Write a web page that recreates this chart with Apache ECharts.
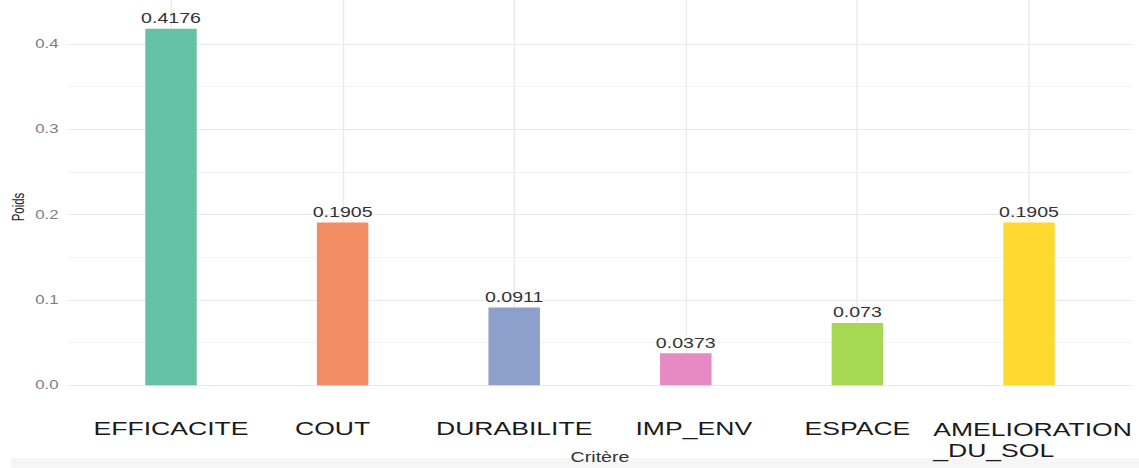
<!DOCTYPE html>
<html>
<head>
<meta charset="utf-8">
<title>Poids des critères</title>
<script src="https://cdn.jsdelivr.net/npm/echarts@6/dist/echarts.min.js"></script>
<style>
  html, body { margin: 0; padding: 0; background: #ffffff; overflow: hidden; }
  #chart {
    width: 814px;
    height: 468px;
    transform: scaleX(1.3993);
    transform-origin: 0 0;
  }
</style>
</head>
<body>
<div id="chart"></div>
<script>
// Criteria and their weights
const categories = ['EFFICACITE', 'COUT', 'DURABILITE', 'IMP_ENV', 'ESPACE', 'AMELIORATION_DU_SOL'];
const weights = [0.4176, 0.1905, 0.0911, 0.0373, 0.073, 0.1905];
const yTicks = [0.0, 0.1, 0.2, 0.3, 0.4];
const palette = ['#66C2A5', '#F38D63', '#8DA0CB', '#E78AC3', '#A6D854', '#FFD92F'];

const FONT = 'Liberation Sans, Arial, Helvetica, sans-serif';
const SX = 1.3993;              // horizontal stretch applied to the chart box
const W = 814;                  // unstretched chart width
const px = x => x / SX;         // page x -> chart x

// small horizontal nudges of some category labels (page pixels)
const labelNudge = { COUT: -10, IMP_ENV: 8 };

// value range of the panel: 5% padding around [0, max]
const vMax = Math.max(...weights);
const yMin = -vMax * 0.05;
const yMax = vMax * 1.05;
const panelTop = 11, panelBottom = 403;
const unit = (panelBottom - panelTop) / (yMax - yMin);
const zeroY = panelBottom + yMin * unit;
const gridTop = 0.45;           // upper end of the grid-line axis

const labelBase = { fontSize: 19, color: '#1a1a1a', fontFamily: FONT };
const rich = {
  w: Object.assign({}, labelBase, { width: 144, align: 'left', lineHeight: 21, padding: [0, 0, 0, 7] })
};
Object.keys(labelNudge).forEach((k, i) => {
  const d = 2 * Math.abs(labelNudge[k]) / SX;
  rich['n' + i] = Object.assign({}, labelBase, {
    padding: labelNudge[k] < 0 ? [0, d, 0, 0] : [0, 0, 0, d]
  });
});

function formatCategory(v) {
  if (v.length > 12) {
    const i = v.indexOf('_');
    return '{w|' + v.slice(0, i) + '}\n{w|' + v.slice(i) + '}';
  }
  const k = Object.keys(labelNudge).indexOf(v);
  return k >= 0 ? '{n' + k + '|' + v + '}' : v;
}

const chart = echarts.init(document.getElementById('chart'), null, { renderer: 'svg' });

chart.setOption({
  animation: false,
  backgroundColor: '#ffffff',
  color: palette,
  textStyle: { fontFamily: FONT },
  graphic: [{
    type: 'rect',
    z: -10,
    shape: { x: px(11), y: 458, width: W, height: 12 },
    style: { fill: '#f6f6f6' }
  }],
  grid: [
    { // horizontal grid lines and y tick labels
      outerBoundsMode: 'none',
      left: px(68.4), right: W - px(1131.6),
      top: zeroY - gridTop * unit, bottom: 468 - zeroY
    },
    { // bars
      outerBoundsMode: 'none',
      left: px(85.2), right: W - px(1114.8),
      top: panelTop, bottom: 468 - panelBottom
    }
  ],
  xAxis: [
    { gridIndex: 0, type: 'value', show: false, min: 0, max: 1 },
    {
      gridIndex: 1,
      type: 'category',
      data: categories,
      name: 'Critère',
      nameLocation: 'middle',
      nameGap: 47,
      nameMoveOverlap: false,
      nameTextStyle: { fontSize: 14, lineHeight: 14, color: '#333333', fontFamily: FONT },
      axisLine: { show: false },
      axisTick: {
        show: true, alignWithLabel: true, inside: true,
        length: panelBottom - panelTop,
        lineStyle: { color: '#ebebeb', width: 1 }
      },
      splitLine: { show: false },
      axisLabel: Object.assign({}, labelBase, {
        interval: 0,
        margin: 16,
        formatter: formatCategory,
        rich: rich
      })
    }
  ],
  yAxis: [
    {
      gridIndex: 0,
      type: 'value',
      min: 0,
      max: gridTop,
      interval: 0.05,
      axisLine: { show: false },
      axisTick: { show: false },
      axisLabel: {
        margin: 7,
        fontSize: 12,
        color: '#808080',
        fontFamily: FONT,
        formatter: v => {
          const t = yTicks.find(k => Math.abs(k - v) < 1e-9);
          return t === undefined ? '' : t.toFixed(1);
        }
      },
      splitLine: {
        show: true,
        showMaxLine: false,
        lineStyle: { color: ['#e9e9e9', '#f2f2f2'], width: 1 }
      }
    },
    {
      gridIndex: 1,
      type: 'value',
      min: yMin,
      max: yMax,
      name: 'Poids',
      nameLocation: 'middle',
      nameRotate: 90,
      nameGap: 42,
      nameMoveOverlap: false,
      nameTextStyle: { fontSize: 11.5, color: '#222222', fontFamily: FONT },
      axisLine: { show: false },
      axisTick: { show: false },
      axisLabel: { show: false },
      splitLine: { show: false }
    }
  ],
  series: [{
    type: 'bar',
    xAxisIndex: 1,
    yAxisIndex: 1,
    data: weights,
    colorBy: 'data',
    barWidth: '30%',
    label: {
      show: true,
      position: 'top',
      distance: 3,
      fontSize: 14,
      color: '#333333',
      fontFamily: FONT,
      formatter: p => String(p.value)
    }
  }]
});
</script>
</body>
</html>
